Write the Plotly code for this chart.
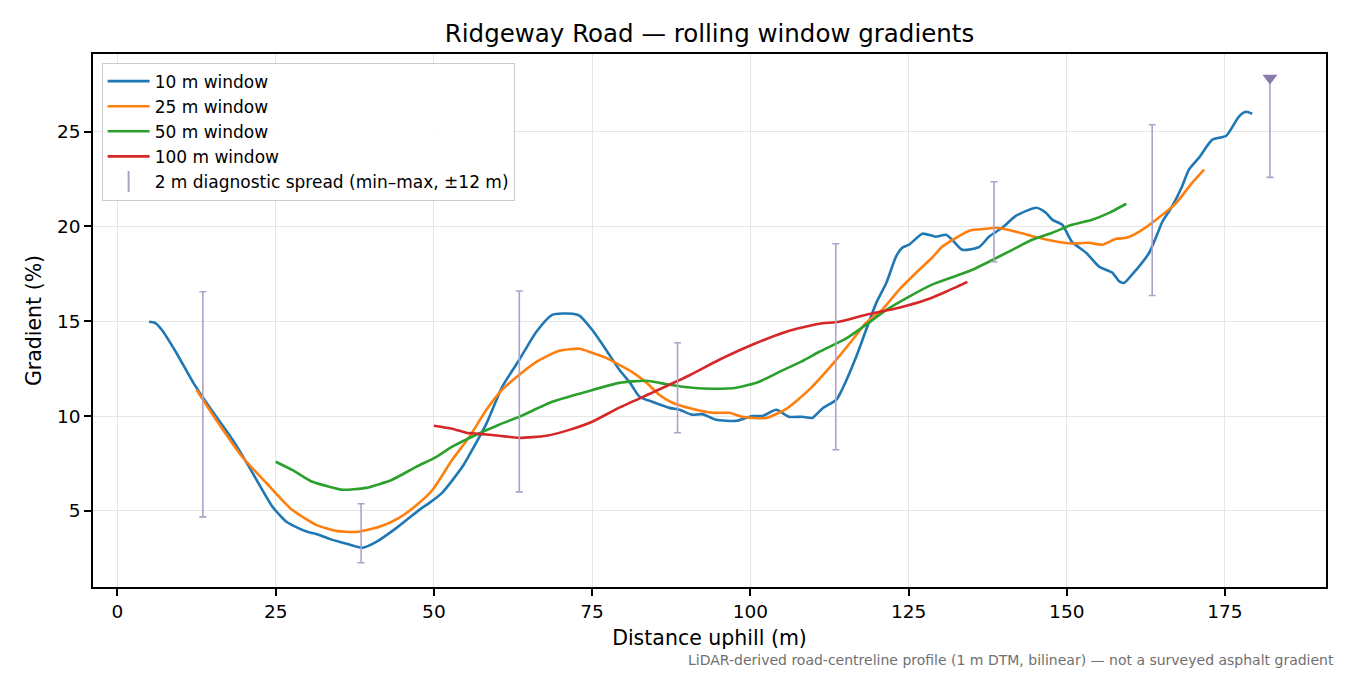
import plotly.graph_objects as go

# --- values ---
dist_10 = [5, 6, 7, 9.3, 12, 14.5, 18.2, 20.8, 24.5, 26.7, 28.5, 30, 31.4, 33.5, 36.2, 38.7,
           40.9, 44.1, 47.7, 49.3, 51.3, 54.5, 56.7, 58.3, 60.8, 63.5, 66.2, 68.7, 71.9, 73,
           75, 77.2, 79.3, 80.9, 82.5, 84.5, 87.2, 88.8, 90.8, 92.4, 94.6, 97.8, 100.3, 101.9,
           104.1, 106.1, 108.2, 109.8, 111.4, 113.6, 114.5, 116.7, 118.3, 119.9, 121.5, 123.0,
           124.0, 125.1, 127.2, 129.3, 130.9, 131.9, 133.5, 136.2, 137.7, 139.8, 142.0, 145.2,
           146.7, 147.7, 149.3, 150.8, 153.1, 155.1, 157.2, 158.3, 159.1, 160.3, 161.4, 163.0,
           164.3, 165.1, 166.6, 168.2, 169.3, 170.9, 173.0, 175.2, 177.2, 178.3, 179.3]
grad_10 = [14.97, 14.9, 14.55, 13.34, 11.75, 10.49, 8.75, 7.32, 5.21, 4.42, 4.1, 3.89, 3.78,
           3.52, 3.26, 3.05, 3.36, 4.1, 5.05, 5.42, 5.95, 7.32, 8.6, 9.6, 11.54, 12.97, 14.45,
           15.34, 15.4, 15.3, 14.55, 13.5, 12.44, 11.8, 11.02, 10.75, 10.43, 10.33, 10.07, 10.1,
           9.8, 9.75, 10.0, 10.0, 10.33, 9.96, 9.96, 9.9, 10.4, 10.86, 11.4, 13.1, 14.55, 15.97,
           17.03, 18.4, 18.88, 19.04, 19.62, 19.46, 19.56, 19.3, 18.77, 18.93, 19.46, 19.93,
           20.57, 20.99, 20.72, 20.36, 20.09, 19.2, 18.6, 17.88, 17.56, 17.1, 17.03, 17.46,
           17.88, 18.6, 19.6, 20.25, 21.04, 22.1, 23.0, 23.63, 24.58, 24.79, 25.8, 26.05, 25.95]

dist_25 = [12.5, 15.6, 19.7, 23.5, 27.6, 31.4, 34.6, 37.8, 41.4, 44.5, 47.7, 49.8, 52.9, 55.6,
           58.3, 60.8, 63.5, 66.2, 69.8, 73.0, 75.0, 77.2, 79.3, 81.3, 83.6, 85.6, 87.7, 90.8,
           94.0, 96.7, 98.7, 102.5, 105.7, 109.3, 112.9, 116.1, 118.3, 120.8, 123.5, 126.2,
           128.7, 130.3, 132.5, 134.6, 137.3, 138.8, 142.0, 145.6, 147.7, 150.8, 153.5, 155.6,
           157.8, 159.4, 161.4, 164.1, 167.3, 169.8, 171.7]
grad_25 = [11.39, 9.8, 7.85, 6.48, 5.05, 4.26, 3.94, 3.89, 4.16, 4.63, 5.42, 6.11, 7.69, 8.9,
           10.33, 11.39, 12.18, 12.86, 13.44, 13.55, 13.34, 13.07, 12.7, 12.33, 11.75, 11.12,
           10.7, 10.38, 10.17, 10.17, 9.96, 9.9, 10.38, 11.39, 12.7, 14.0, 14.92, 15.6, 16.66,
           17.56, 18.35, 18.93, 19.4, 19.78, 19.88, 19.93, 19.72, 19.4, 19.25, 19.1, 19.14,
           19.04, 19.35, 19.4, 19.72, 20.36, 21.25, 22.3, 23.0]

dist_50 = [25.0, 27.6, 30.8, 33.5, 35.6, 39.3, 43.4, 47.2, 50.4, 52.9, 56.7, 60.3, 63.5, 68.7,
           74.1, 79.3, 83.6, 87.2, 90.8, 94.0, 97.8, 101.4, 104.6, 108.2, 110.9, 115.1, 118.3,
           121.5, 125.1, 128.7, 133.0, 135.1, 137.7, 141.4, 144.5, 147.7, 150.8, 154.0, 156.7,
           159.4]
grad_50 = [7.59, 7.16, 6.53, 6.27, 6.11, 6.21, 6.64, 7.32, 7.85, 8.38, 9.01, 9.54, 9.96, 10.75,
           11.28, 11.75, 11.86, 11.65, 11.49, 11.44, 11.49, 11.81, 12.33, 12.9, 13.39, 14.08,
           14.82, 15.6, 16.3, 16.93, 17.45, 17.72, 18.14, 18.77, 19.3, 19.67, 20.09, 20.36,
           20.72, 21.2]

dist_100 = [50, 52.9, 55.1, 57.2, 60.3, 63.5, 67.8, 71.4, 75.0, 79.3, 84.5, 89.9, 95.1, 100.3,
            105.7, 110.9, 114.0, 118.3, 123.5, 127.8, 130.9, 134.3]
grad_100 = [9.49, 9.33, 9.12, 9.06, 8.96, 8.85, 8.96, 9.27, 9.7, 10.44, 11.23, 12.07, 12.97,
            13.76, 14.45, 14.87, 14.97, 15.34, 15.71, 16.13, 16.56, 17.08]

spread_x = [13.5, 38.5, 63.5, 88.5, 113.5, 138.5, 163.5, 182.1]
spread_lo = [4.68, 2.26, 6.0, 9.12, 8.22, 18.14, 16.36, 22.59]
spread_hi = [16.56, 5.37, 16.6, 13.87, 19.09, 22.36, 25.37, 27.83]

window_names = ["10 m window", "25 m window", "50 m window", "100 m window"]
window_colors = ["#1f77b4", "#ff7f0e", "#2ca02c", "#d62728"]

SPREAD_COLOR = "#ada2c9"
CLIP_COLOR = "#8a7aaa"
FONT = "DejaVu Sans"

fig = go.Figure()

series = [(dist_10, grad_10), (dist_25, grad_25), (dist_50, grad_50), (dist_100, grad_100)]
for (xs, ys), name, color in zip(series, window_names, window_colors):
    fig.add_trace(go.Scatter(x=xs, y=ys, mode="lines", name=name,
                             line=dict(color=color, width=2.6, shape="spline", smoothing=0.6)))

# min-max spread bars, drawn around their midpoint
mid = [(lo + hi) / 2 for lo, hi in zip(spread_lo, spread_hi)]
fig.add_trace(go.Scatter(
    x=spread_x, y=mid, mode="markers", showlegend=False, hoverinfo="skip",
    marker=dict(size=1, color="rgba(0,0,0,0)"),
    error_y=dict(type="data", symmetric=False,
                 array=[hi - m for hi, m in zip(spread_hi, mid)],
                 arrayminus=[m - lo for lo, m in zip(spread_lo, mid)],
                 color=SPREAD_COLOR, thickness=1.6, width=3.5),
))

# last bar runs off the top: mark it with a down triangle
fig.add_trace(go.Scatter(
    x=spread_x[-1:], y=spread_hi[-1:], mode="markers", showlegend=False,
    marker=dict(symbol="triangle-down", size=13, color=CLIP_COLOR),
))

# legend entry for the spread bars
fig.add_trace(go.Scatter(
    x=[None], y=[None], mode="markers", name="2 m diagnostic spread (min–max, ±12 m)",
    marker=dict(symbol="line-ns-open", size=15, color=SPREAD_COLOR,
                line=dict(color=SPREAD_COLOR, width=2)),
))

axis_common = dict(
    showline=True, linecolor="black", linewidth=1.6, mirror=True,
    ticks="outside", ticklen=7, tickwidth=1.6, tickcolor="black",
    showgrid=True, gridcolor="#e6e6e6", gridwidth=1.3, zeroline=False,
    tickfont=dict(family=FONT, size=18.5, color="black"),
)

# the page adds an 8 px body margin, so the margins below are offset by it
fig.update_layout(
    width=1350, height=675,
    margin=dict(l=85, r=32, t=46, b=96),
    plot_bgcolor="white", paper_bgcolor="white",
    font=dict(family=FONT, color="black"),
    title=dict(text="Ridgeway Road — rolling window gradients", x=0.5, xref="paper",
               y=0.963, yref="container", yanchor="middle",
               font=dict(family=FONT, size=24.5, color="black")),
    xaxis=dict(axis_common, range=[-3.86, 190.96], tickvals=[0, 25, 50, 75, 100, 125, 150, 175],
               title=dict(text="Distance uphill (m)", standoff=10,
                          font=dict(family=FONT, size=20.5))),
    yaxis=dict(axis_common, range=[0.98, 29.1], tickvals=[5, 10, 15, 20, 25],
               title=dict(text="Gradient (%)", standoff=10,
                          font=dict(family=FONT, size=20.5))),
    legend=dict(x=0.007, y=0.984, xanchor="left", yanchor="top", itemwidth=42,
                bgcolor="rgba(255,255,255,0.85)", bordercolor="#cccccc", borderwidth=1,
                font=dict(family=FONT, size=17), tracegroupgap=0),
    showlegend=True,
)

fig.add_annotation(
    text="LiDAR-derived road-centreline profile (1 m DTM, bilinear) — not a surveyed asphalt gradient",
    xref="paper", yref="paper", x=1.0081, y=-0.137, xanchor="right", yanchor="middle",
    showarrow=False, font=dict(family=FONT, size=14, color="#707070"),
)

fig.write_html("out.html")
